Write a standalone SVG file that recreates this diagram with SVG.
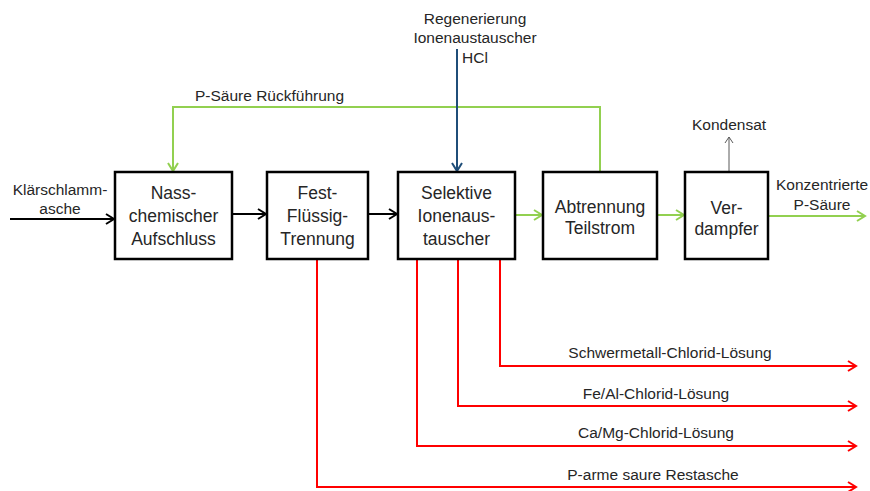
<svg xmlns="http://www.w3.org/2000/svg" width="870" height="491" viewBox="0 0 870 491">
<style>
text{font-family:"Liberation Sans",Arial,sans-serif;fill:#262626}
.b{font-size:17.5px;text-anchor:middle}
.l{font-size:15.5px}
.m{text-anchor:middle}
.box{fill:#fff;stroke:#000;stroke-width:2.5}
.k{stroke:#000;stroke-width:2;fill:none}
.g{stroke:#92D050;stroke-width:2;fill:none}
.r{stroke:#FF0000;stroke-width:2;fill:none}
.u{stroke:#1F4E79;stroke-width:2;fill:none}
.y{stroke:#595959;stroke-width:1;fill:none}
</style>
<defs>
<marker id="ak" markerUnits="userSpaceOnUse" markerWidth="12" markerHeight="12" refX="10" refY="6" orient="auto"><path d="M2,1 L10,6 L2,11" fill="none" stroke="#000" stroke-width="2"/></marker>
<marker id="ag" markerUnits="userSpaceOnUse" markerWidth="12" markerHeight="12" refX="10" refY="6" orient="auto"><path d="M2,1 L10,6 L2,11" fill="none" stroke="#92D050" stroke-width="2"/></marker>
<marker id="ar" markerUnits="userSpaceOnUse" markerWidth="12" markerHeight="12" refX="10" refY="6" orient="auto"><path d="M2,1 L10,6 L2,11" fill="none" stroke="#FF0000" stroke-width="2"/></marker>
<marker id="au" markerUnits="userSpaceOnUse" markerWidth="12" markerHeight="12" refX="10" refY="6" orient="auto"><path d="M2,1 L10,6 L2,11" fill="none" stroke="#1F4E79" stroke-width="2"/></marker>
<marker id="ay" markerUnits="userSpaceOnUse" markerWidth="10" markerHeight="10" refX="8" refY="5" orient="auto"><path d="M2,1 L8,5 L2,9" fill="none" stroke="#595959" stroke-width="1"/></marker>
</defs>
<g id="connectors">
<path class="k" d="M10,219 H114" marker-end="url(#ak)"/>
<path class="k" d="M232,214 H266" marker-end="url(#ak)"/>
<path class="k" d="M368,214 H397" marker-end="url(#ak)"/>
<path class="g" d="M515,215 H542" marker-end="url(#ag)"/>
<path class="g" d="M657,215 H684" marker-end="url(#ag)"/>
<path class="g" d="M768,216 H865" marker-end="url(#ag)"/>
<path class="g" d="M600,172 V107 H173 V171" marker-end="url(#ag)"/>
<path class="u" d="M457,49 V171" marker-end="url(#au)"/>
<path class="y" d="M729,172 V137" marker-end="url(#ay)"/>
<path class="r" d="M500,259 V366 H856" marker-end="url(#ar)"/>
<path class="r" d="M458,259 V406 H856" marker-end="url(#ar)"/>
<path class="r" d="M417,259 V446 H856" marker-end="url(#ar)"/>
<path class="r" d="M317,259 V487 H856" marker-end="url(#ar)"/>
</g>
<g id="n1"><rect class="box" x="115" y="172" width="117" height="87"/>
<text class="b" x="173.5" y="199">Nass-</text><text class="b" x="173.5" y="222">chemischer</text><text class="b" x="173.5" y="245">Aufschluss</text></g>
<g id="n2"><rect class="box" x="267" y="172" width="101" height="87"/>
<text class="b" x="317.5" y="199">Fest-</text><text class="b" x="317.5" y="222">Flüssig-</text><text class="b" x="317.5" y="245">Trennung</text></g>
<g id="n3"><rect class="box" x="398" y="172" width="117" height="87"/>
<text class="b" x="456.5" y="199">Selektive</text><text class="b" x="456.5" y="222">Ionenaus-</text><text class="b" x="456.5" y="245">tauscher</text></g>
<g id="n4"><rect class="box" x="543" y="172" width="114" height="87"/>
<text class="b" x="600" y="213">Abtrennung</text><text class="b" x="600" y="234">Teilstrom</text></g>
<g id="n5"><rect class="box" x="685" y="172" width="83" height="87"/>
<text class="b" x="726.5" y="214">Ver-</text><text class="b" x="726.5" y="235">dampfer</text></g>
<g id="labels">
<text class="l m" x="60" y="195">Klärschlamm-</text>
<text class="l m" x="60" y="214">asche</text>
<text class="l m" x="475" y="24">Regenerierung</text>
<text class="l m" x="475" y="43">Ionenaustauscher</text>
<text class="l" x="462" y="63">HCl</text>
<text class="l" x="195" y="101">P-Säure Rückführung</text>
<text class="l m" x="729" y="130">Kondensat</text>
<text class="l" x="776" y="190">Konzentrierte</text>
<text class="l m" x="822" y="210">P-Säure</text>
<text class="l m" x="670" y="358">Schwermetall-Chlorid-Lösung</text>
<text class="l m" x="656" y="399">Fe/Al-Chlorid-Lösung</text>
<text class="l m" x="656" y="438">Ca/Mg-Chlorid-Lösung</text>
<text class="l m" x="653" y="480">P-arme saure Restasche</text>
</g>
</svg>
